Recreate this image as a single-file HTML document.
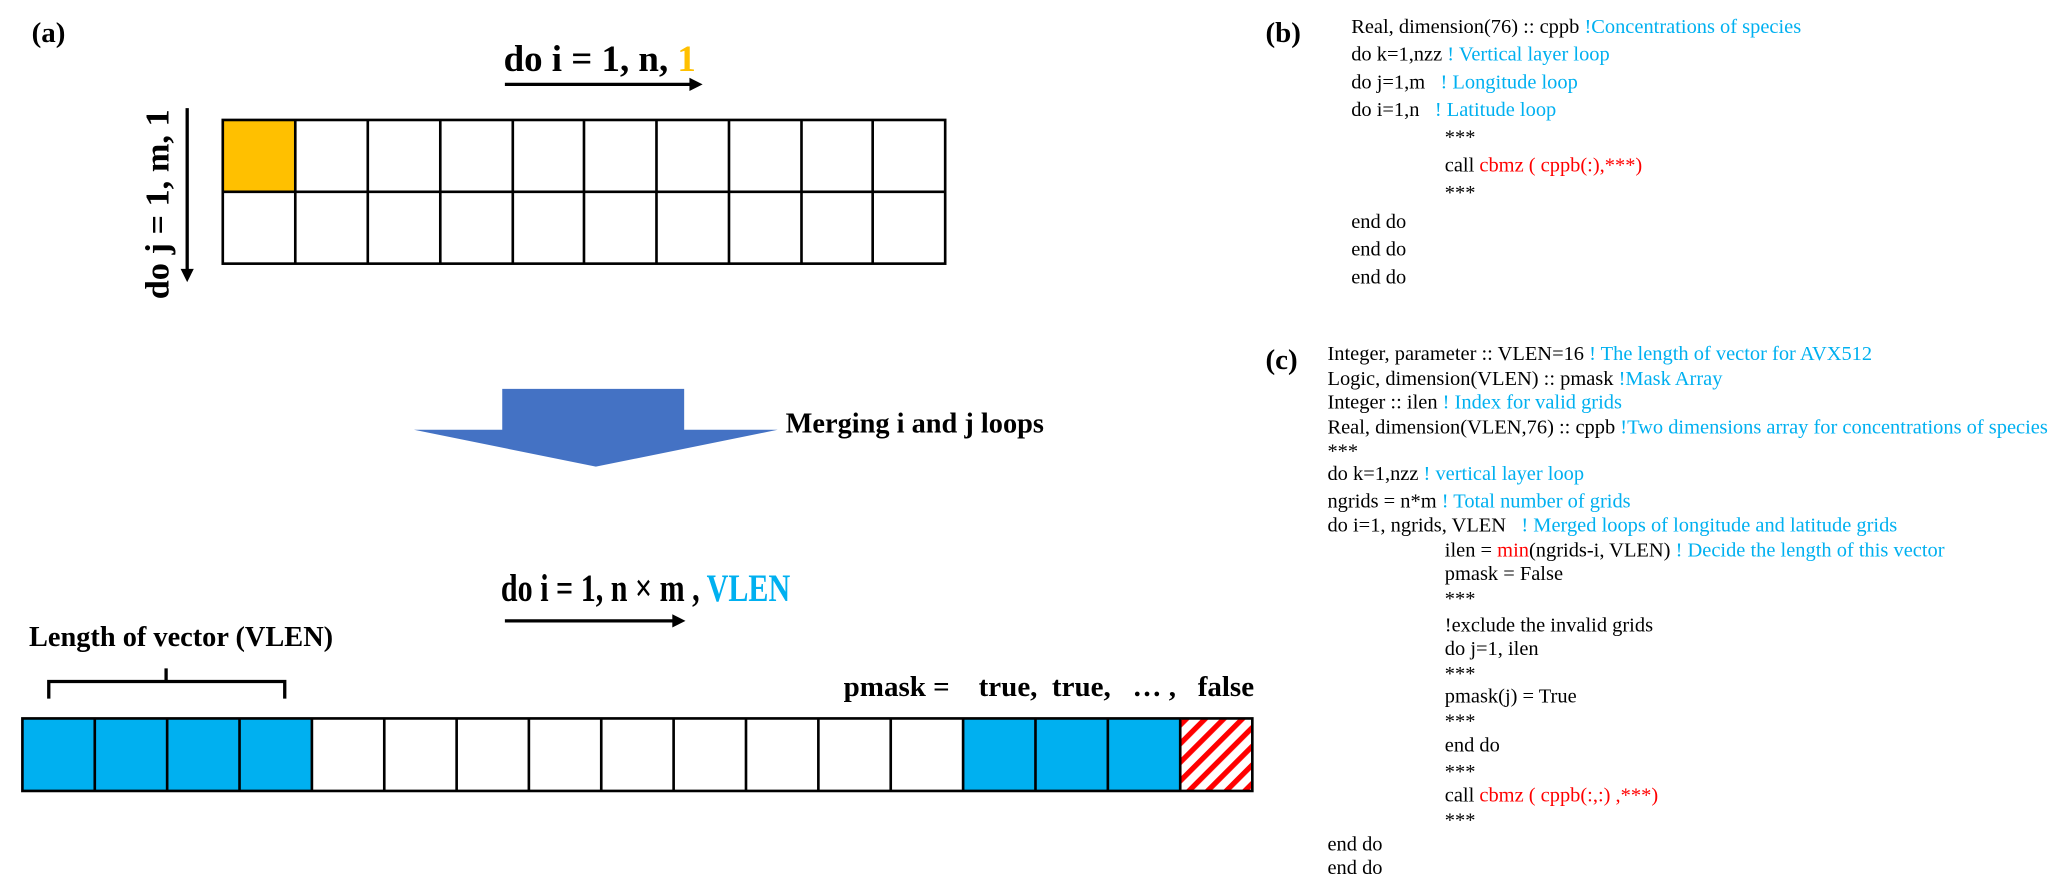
<!DOCTYPE html>
<html><head><meta charset="utf-8"><style>
body{margin:0;width:2067px;height:893px;background:#fff;position:relative;overflow:hidden;font-family:"Liberation Serif",serif;color:#000}
#w{position:absolute;left:0;top:0;width:1568px;height:678px;transform:scale(1.31824);transform-origin:0 0}
.a{position:absolute;white-space:pre;line-height:1}
.b{font-weight:bold}
.c{color:#00B0F0}.r{color:#FF0000}
.code{font-size:15.5px}
</style></head><body><div id="w">
<div class="a b" style="left:24px;top:14px;font-size:22px">(a)</div>
<div class="a b" style="left:960px;top:14px;font-size:22px">(b)</div>
<div class="a b" style="left:960px;top:262px;font-size:22px">(c)</div>

<div class="a b" style="left:382px;top:32px;font-size:28px">do i = 1, n, <span style="color:#FFC000">1</span></div>
<div class="a b" style="left:380px;top:432px;font-size:30px;transform:scaleX(0.76);transform-origin:0 0">do i = 1, n × m , <span class="c">VLEN</span></div>
<div class="a b" style="left:596px;top:311px;font-size:21.5px">Merging i and j loops</div>
<div class="a b" style="left:22px;top:473px;font-size:21.5px">Length of vector (VLEN)</div>
<div class="a b" style="left:640px;top:510px;font-size:22px">pmask =    true,  true,   … ,   false</div>
<div class="a b" style="left:120px;top:155px;font-size:26px;transform:translate(-50%,-50%) rotate(-90deg);transform-origin:center">do j = 1, m, 1</div>

<svg class="a" style="left:0;top:0" width="1568" height="678">
<defs>
<pattern id="h" width="10" height="10" patternUnits="userSpaceOnUse" patternTransform="rotate(45)">
<rect width="10" height="10" fill="#fff"/><rect width="4" height="10" fill="#FF0000"/></pattern>
</defs>
<line x1="383" y1="64" x2="525" y2="64" stroke="#000" stroke-width="2.5"/>
<polygon points="533,64 523,59 523,69" fill="#000"/>
<line x1="383" y1="471" x2="512" y2="471" stroke="#000" stroke-width="2.5"/>
<polygon points="520,471 510,466 510,476" fill="#000"/>
<line x1="142" y1="82" x2="142" y2="206" stroke="#000" stroke-width="2.5"/>
<polygon points="142,214 137,204 147,204" fill="#000"/>
<polygon points="381,295 519,295 519,326 590,326 452,354 314,326 381,326" fill="#4472C4"/>
<rect x="169" y="91" width="55" height="54.5" fill="#FFC000"/>
<g stroke="#000" stroke-width="2" fill="none">
<rect x="169" y="91" width="548" height="109"/>
<line x1="169" y1="145.5" x2="717" y2="145.5"/>
<line x1="224" y1="91" x2="224" y2="200"/><line x1="279" y1="91" x2="279" y2="200"/><line x1="334" y1="91" x2="334" y2="200"/><line x1="389" y1="91" x2="389" y2="200"/><line x1="443" y1="91" x2="443" y2="200"/><line x1="498" y1="91" x2="498" y2="200"/><line x1="553" y1="91" x2="553" y2="200"/><line x1="608" y1="91" x2="608" y2="200"/><line x1="662" y1="91" x2="662" y2="200"/>
</g>
<rect x="17" y="545" width="219.6" height="55" fill="#00B0F0"/>
<rect x="731" y="545" width="164.6" height="55" fill="#00B0F0"/>
<rect x="895.6" y="545" width="54.9" height="55" fill="url(#h)"/>
<g stroke="#000" stroke-width="2" fill="none">
<rect x="17" y="545" width="933" height="55"/>
<line x1="71.9" y1="545" x2="71.9" y2="600"/><line x1="126.8" y1="545" x2="126.8" y2="600"/><line x1="181.7" y1="545" x2="181.7" y2="600"/><line x1="236.6" y1="545" x2="236.6" y2="600"/><line x1="291.5" y1="545" x2="291.5" y2="600"/><line x1="346.4" y1="545" x2="346.4" y2="600"/><line x1="401.2" y1="545" x2="401.2" y2="600"/><line x1="456.1" y1="545" x2="456.1" y2="600"/><line x1="511" y1="545" x2="511" y2="600"/><line x1="565.9" y1="545" x2="565.9" y2="600"/><line x1="620.8" y1="545" x2="620.8" y2="600"/><line x1="675.7" y1="545" x2="675.7" y2="600"/><line x1="730.6" y1="545" x2="730.6" y2="600"/><line x1="785.5" y1="545" x2="785.5" y2="600"/><line x1="840.4" y1="545" x2="840.4" y2="600"/><line x1="895.3" y1="545" x2="895.3" y2="600"/>
<path d="M37,530 V517 H126 V507 M126,517 H216 V530" stroke-width="2.5"/>
</g>
</svg>

<div class="a code" style="left:1025px;top:13px">Real, dimension(76) :: cppb <span class="c">!Concentrations of species</span></div>
<div class="a code" style="left:1025px;top:34px">do k=1,nzz <span class="c">! Vertical layer loop</span></div>
<div class="a code" style="left:1025px;top:55px">do j=1,m   <span class="c">! Longitude loop</span></div>
<div class="a code" style="left:1025px;top:76px">do i=1,n   <span class="c">! Latitude loop</span></div>
<div class="a code" style="left:1096px;top:97px">***</div>
<div class="a code" style="left:1096px;top:118px">call <span class="r">cbmz ( cppb(:),***)</span></div>
<div class="a code" style="left:1096px;top:139px">***</div>
<div class="a code" style="left:1025px;top:161px">end do</div>
<div class="a code" style="left:1025px;top:182px">end do</div>
<div class="a code" style="left:1025px;top:203px">end do</div>

<div class="a code" style="left:1007px;top:261px">Integer, parameter :: VLEN=16 <span class="c">! The length of vector for AVX512</span></div>
<div class="a code" style="left:1007px;top:280px">Logic, dimension(VLEN) :: pmask <span class="c">!Mask Array</span></div>
<div class="a code" style="left:1007px;top:298px">Integer :: ilen <span class="c">! Index for valid grids</span></div>
<div class="a code" style="left:1007px;top:317px">Real, dimension(VLEN,76) :: cppb <span class="c">!Two dimensions array for concentrations of species</span></div>
<div class="a code" style="left:1007px;top:335px">***</div>
<div class="a code" style="left:1007px;top:352px">do k=1,nzz <span class="c">! vertical layer loop</span></div>
<div class="a code" style="left:1007px;top:373px">ngrids = n*m <span class="c">! Total number of grids</span></div>
<div class="a code" style="left:1007px;top:391px">do i=1, ngrids, VLEN   <span class="c">! Merged loops of longitude and latitude grids</span></div>
<div class="a code" style="left:1096px;top:410px">ilen = <span class="r">min</span>(ngrids-i, VLEN) <span class="c">! Decide the length of this vector</span></div>
<div class="a code" style="left:1096px;top:428px">pmask = False</div>
<div class="a code" style="left:1096px;top:447px">***</div>
<div class="a code" style="left:1096px;top:467px">!exclude the invalid grids</div>
<div class="a code" style="left:1096px;top:485px">do j=1, ilen</div>
<div class="a code" style="left:1096px;top:504px">***</div>
<div class="a code" style="left:1096px;top:521px">pmask(j) = True</div>
<div class="a code" style="left:1096px;top:540px">***</div>
<div class="a code" style="left:1096px;top:558px">end do</div>
<div class="a code" style="left:1096px;top:578px">***</div>
<div class="a code" style="left:1096px;top:596px">call <span class="r">cbmz ( cppb(:,:) ,***)</span></div>
<div class="a code" style="left:1096px;top:615px">***</div>
<div class="a code" style="left:1007px;top:633px">end do</div>
<div class="a code" style="left:1007px;top:651px">end do</div>
</div></body></html>
